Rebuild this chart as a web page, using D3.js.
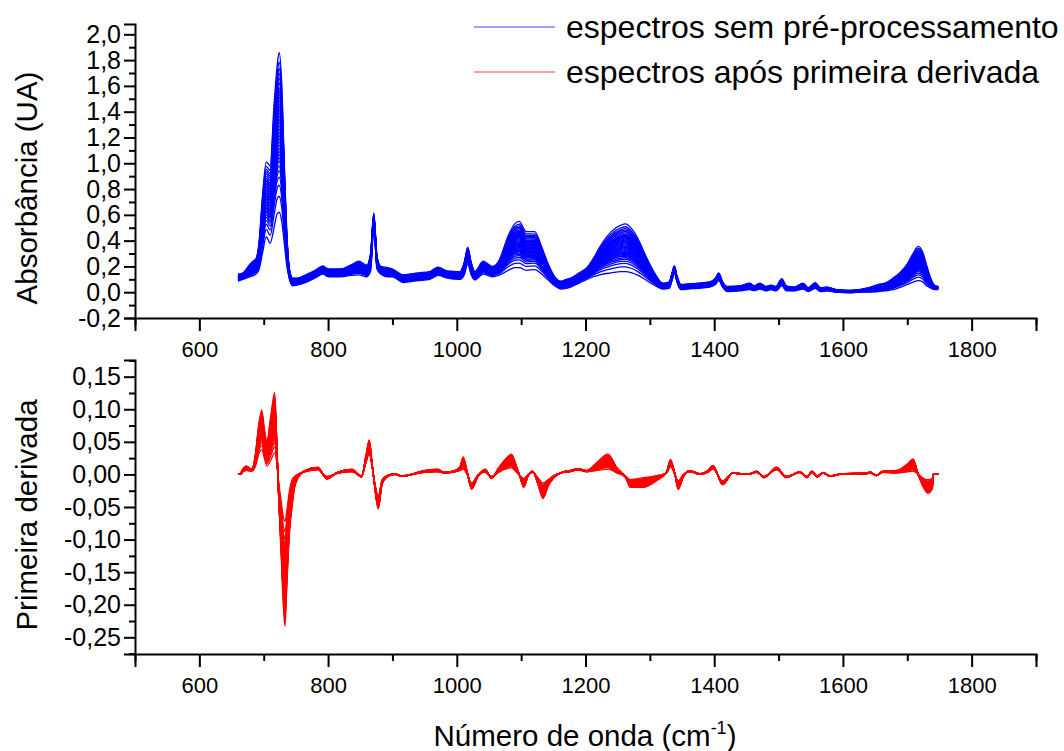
<!DOCTYPE html>
<html>
<head>
<meta charset="utf-8">
<script src="https://cdn.jsdelivr.net/npm/d3@7"></script>
<style>
  html, body { margin: 0; padding: 0; background: #fff; }
  svg { display: block; font-family: "Liberation Sans", Arial, sans-serif; }
</style>
</head>
<body>
<svg id="chart" width="1064" height="751"></svg>
<script>
// Wavenumber grid (cm-1) for the raw absorbance spectra, with the
// weakest and strongest spectrum of the set on that grid.
const absWavenumbers = [660, 668, 676, 682, 688, 693, 698, 704, 710, 716, 721, 724, 728, 732, 736, 740, 745, 752, 765, 780,
  792, 800, 820, 835, 848, 860, 866, 871, 876, 882, 893, 900, 917, 940, 958, 971, 985, 1005, 1012, 1017,
  1022, 1028, 1041, 1055, 1065, 1080, 1090, 1097, 1108, 1121, 1132, 1142, 1152, 1162, 1170, 1177, 1190, 1202, 1212, 1222,
  1240, 1255, 1262, 1272, 1282, 1292, 1305, 1320, 1330, 1335, 1338, 1342, 1348, 1360, 1375, 1393, 1402, 1407, 1413, 1420,
  1440, 1455, 1462, 1471, 1480, 1488, 1496, 1505, 1512, 1525, 1538, 1546, 1557, 1565, 1575, 1590, 1610, 1625, 1640, 1655,
  1665, 1678, 1690, 1700, 1710, 1717, 1724, 1730, 1737, 1743, 1748];
const absLowest = [0.085, 0.10, 0.115, 0.125, 0.14, 0.18, 0.30, 0.43, 0.38, 0.50, 0.61, 0.62, 0.55, 0.38, 0.20, 0.10, 0.05, 0.055, 0.075, 0.11,
  0.14, 0.12, 0.12, 0.13, 0.135, 0.12, 0.16, 0.50, 0.18, 0.14, 0.12, 0.12, 0.075, 0.09, 0.10, 0.13, 0.11, 0.10, 0.14, 0.22,
  0.14, 0.095, 0.14, 0.12, 0.13, 0.17, 0.19, 0.19, 0.17, 0.175, 0.14, 0.095, 0.05, 0.025, 0.03, 0.04, 0.07, 0.10, 0.12, 0.135,
  0.15, 0.16, 0.16, 0.15, 0.13, 0.10, 0.06, 0.025, 0.03, 0.10, 0.15, 0.08, 0.02, 0.025, 0.03, 0.04, 0.06, 0.09, 0.04, 0.005,
  0.01, 0.02, 0.012, 0.025, 0.01, 0.02, 0.01, 0.05, 0.01, 0.01, 0.025, 0.005, 0.03, 0.005, 0.01, 0.0, -0.005, 0.0, 0.0, 0.005,
  0.01, 0.02, 0.04, 0.06, 0.08, 0.09, 0.08, 0.05, 0.03, 0.02, 0.02];
const absHighest = [0.14, 0.15, 0.20, 0.235, 0.26, 0.40, 0.74, 1.01, 0.98, 1.45, 1.76, 1.86, 1.62, 1.00, 0.45, 0.18, 0.11, 0.11, 0.135, 0.17,
  0.205, 0.18, 0.18, 0.21, 0.24, 0.21, 0.30, 0.615, 0.28, 0.20, 0.19, 0.18, 0.135, 0.15, 0.16, 0.195, 0.165, 0.16, 0.24, 0.35,
  0.24, 0.16, 0.24, 0.20, 0.24, 0.44, 0.53, 0.55, 0.47, 0.47, 0.35, 0.22, 0.12, 0.085, 0.10, 0.11, 0.15, 0.19, 0.26, 0.35,
  0.47, 0.52, 0.53, 0.49, 0.41, 0.30, 0.17, 0.07, 0.08, 0.16, 0.205, 0.13, 0.06, 0.065, 0.07, 0.08, 0.11, 0.15, 0.08, 0.045,
  0.05, 0.07, 0.05, 0.07, 0.045, 0.055, 0.045, 0.105, 0.05, 0.04, 0.07, 0.035, 0.075, 0.035, 0.04, 0.02, 0.015, 0.02, 0.035, 0.06,
  0.07, 0.11, 0.16, 0.22, 0.31, 0.355, 0.31, 0.21, 0.10, 0.05, 0.045];

// First-derivative spectra: grid and the weakest / strongest response.
const derivWavenumbers = [660, 664, 668, 673, 681, 687, 692, 697, 701, 705, 711, 717, 720, 723, 727, 731, 733, 736, 740, 744,
  748, 752, 764, 784, 798, 816, 837, 852, 859, 864, 868, 872, 878, 884, 893, 904, 914, 950, 971, 980,
  997, 1005, 1010, 1016, 1023, 1033, 1044, 1054, 1065, 1075, 1085, 1093, 1098, 1104, 1111, 1118, 1126, 1134, 1142, 1150,
  1165, 1176, 1188, 1202, 1217, 1235, 1249, 1262, 1270, 1290, 1310, 1326, 1332, 1339, 1344, 1352, 1362, 1378, 1390, 1398,
  1413, 1429, 1452, 1466, 1477, 1497, 1512, 1533, 1544, 1552, 1560, 1569, 1580, 1600, 1637, 1642, 1652, 1662, 1683, 1700,
  1709, 1717, 1725, 1732, 1739, 1740, 1748];
const derivWeakest = [0, 0, 0.004, 0.006, 0.005, 0.012, 0.03, 0.038, 0.025, 0.013, 0.022, 0.033, 0.02, -0.01, -0.04, -0.068, -0.072, -0.055, -0.025, -0.008,
  -0.003, 0.0, 0.004, 0.007, -0.003, 0.002, 0.004, -0.002, 0.018, 0.031, 0.015, -0.01, -0.033, -0.008, -0.001, 0.001, -0.002, 0.003, 0.004, 0.002,
  0.004, 0.006, 0.008, 0.0, -0.013, -0.001, 0.003, -0.003, 0.003, 0.008, 0.01, 0.003, -0.002, -0.006, 0.0, 0.003, -0.005, -0.013, -0.008, -0.002,
  0.003, 0.004, 0.007, 0.004, 0.006, 0.008, 0.002, -0.003, -0.008, -0.005, -0.002, 0.002, 0.012, 0.0, -0.01, 0.0, 0.004, 0.0, 0.003, 0.008,
  -0.01, 0.002, 0.0, 0.003, -0.003, 0.007, -0.003, 0.003, -0.003, 0.003, -0.002, 0.002, -0.002, 0.001, 0.001, 0.002, -0.001, 0.003, 0.002, 0.004,
  0.005, 0.0, -0.006, -0.008, -0.006, 0, 0];
const derivStrongest = [0, 0.002, 0.009, 0.013, 0.008, 0.03, 0.075, 0.099, 0.07, 0.051, 0.09, 0.126, 0.06, -0.03, -0.12, -0.21, -0.233, -0.17, -0.09, -0.05,
  -0.02, -0.008, 0.006, 0.011, -0.007, 0.004, 0.008, -0.004, 0.03, 0.053, 0.02, -0.015, -0.053, -0.015, -0.003, 0.0, -0.003, 0.006, 0.008, 0.003,
  0.006, 0.012, 0.027, 0.005, -0.023, -0.003, 0.008, -0.006, 0.01, 0.023, 0.031, 0.012, -0.003, -0.02, -0.002, 0.005, -0.015, -0.037, -0.018, -0.006,
  0.004, 0.006, 0.009, 0.006, 0.018, 0.031, 0.01, -0.004, -0.02, -0.02, -0.01, 0.004, 0.023, 0.0, -0.023, -0.004, 0.006, 0.001, 0.006, 0.014,
  -0.016, 0.002, 0.0, 0.005, -0.005, 0.011, -0.005, 0.004, -0.005, 0.005, -0.004, 0.003, -0.003, 0.001, 0.002, 0.004, -0.002, 0.005, 0.006, 0.016,
  0.024, 0.0, -0.02, -0.029, -0.022, 0, 0];

// Relative position of each sample between the weakest and strongest spectrum.
const sampleLevels = [0, 0.1, 0.17, 0.22, 0.26, 0.29, 0.32, 0.34, 0.36, 0.38, 0.40, 0.42, 0.44, 0.46, 0.48, 0.50, 0.52, 0.54,
  0.56, 0.58, 0.60, 0.62, 0.64, 0.66, 0.68, 0.70, 0.72, 0.74, 0.76, 0.78, 0.81, 0.84, 0.87, 0.90, 0.94, 1.0];

const xTickValues = [600, 800, 1000, 1200, 1400, 1600, 1800];
const xMinorValues = [500, 700, 900, 1100, 1300, 1500, 1700, 1900];
const absTickValues = [-0.2, 0.0, 0.2, 0.4, 0.6, 0.8, 1.0, 1.2, 1.4, 1.6, 1.8, 2.0];
const absMinorValues = [-0.1, 0.1, 0.3, 0.5, 0.7, 0.9, 1.1, 1.3, 1.5, 1.7, 1.9];
const derivTickValues = [-0.25, -0.20, -0.15, -0.10, -0.05, 0.00, 0.05, 0.10, 0.15];
const derivMinorValues = [-0.275, -0.225, -0.175, -0.125, -0.075, -0.025, 0.025, 0.075, 0.125, 0.175];

const legendLabels = ["espectros sem pré-processamento", "espectros após primeira derivada"];
const seriesColors = ["#0000ff", "#ff0000"];

const svg = d3.select("#chart");
const locale = d3.formatLocale({ decimal: ",", thousands: ".", grouping: [3], currency: ["", ""], minus: "-" });

const x = d3.scaleLinear().domain([500, 1900]).range([135, 1036]);
const yAbs = d3.scaleLinear().domain([-0.2, 2.08]).range([318, 24]);
const yDer = d3.scaleLinear().domain([-0.2756, 0.1756]).range([654, 360]);

function buildSpectra(grid, weak, strong) {
  return sampleLevels.map(t => grid.map((w, i) => [w, weak[i] + t * (strong[i] - weak[i])]));
}

function drawPanel(yScale, spectra, color, yTicks, yMinor, fmt, title, titleY) {
  const g = svg.append("g");
  const line = d3.line().x(d => x(d[0])).y(d => yScale(d[1])).curve(d3.curveMonotoneX);
  g.append("g").selectAll("path").data(spectra).join("path")
    .attr("d", line).attr("fill", "none").attr("stroke", color).attr("stroke-width", 1.3);

  const yr = yScale.range();
  // x axis: labelled majors every 200 cm-1, minors in between
  const xAxis = g.append("g").attr("transform", `translate(0,${yr[0]})`);
  xAxis.call(d3.axisBottom(x).tickValues(xTickValues).tickSize(13).tickPadding(10).tickFormat(d3.format("d")));
  xAxis.append("g").call(d3.axisBottom(x).tickValues(xMinorValues).tickSize(7).tickFormat(""));
  // y axis
  const yAxis = g.append("g").attr("transform", `translate(${x.range()[0]},0)`);
  yAxis.call(d3.axisLeft(yScale).tickValues(yTicks).tickSize(11).tickPadding(3).tickFormat(fmt));
  yAxis.append("g").call(d3.axisLeft(yScale).tickValues(yMinor).tickSize(6).tickFormat(""));

  g.selectAll(".domain").attr("stroke", "#000").attr("stroke-width", 2);
  g.selectAll(".tick line").attr("stroke", "#000").attr("stroke-width", 2);
  xAxis.selectAll(".tick text").attr("font-size", 22).attr("font-family", "'Liberation Sans Narrow', 'Liberation Sans', Arial, sans-serif").attr("fill", "#000");
  yAxis.selectAll(".tick text").attr("font-size", 25).attr("fill", "#000");
  g.selectAll(".domain").filter(function () { return this.parentNode.parentNode === xAxis.node() || this.parentNode.parentNode === yAxis.node(); }).remove();

  g.append("text")
    .attr("transform", `translate(37,${titleY}) rotate(-90)`)
    .attr("text-anchor", "middle").attr("font-size", 29.5).attr("fill", "#000")
    .text(title);
}

drawPanel(yAbs, buildSpectra(absWavenumbers, absLowest, absHighest), seriesColors[0],
  absTickValues, absMinorValues, locale.format(".1f"), "Absorbância (UA)", 188);
drawPanel(yDer, buildSpectra(derivWavenumbers, derivWeakest, derivStrongest), seriesColors[1],
  derivTickValues, derivMinorValues, locale.format(".2f"), "Primeira derivada", 515);

// x axis title
const xt = svg.append("text").attr("x", 585).attr("y", 746).attr("text-anchor", "middle")
  .attr("font-size", 29.5).attr("fill", "#000");
xt.append("tspan").text("Número de onda (cm");
xt.append("tspan").attr("font-size", 18).attr("dy", -12).text("-1");
xt.append("tspan").attr("dy", 12).text(")");

// legend
const legend = svg.append("g");
legendLabels.forEach((label, i) => {
  const ly = 27 + i * 45;
  legend.append("line").attr("x1", 474).attr("x2", 555).attr("y1", ly).attr("y2", ly)
    .attr("stroke", seriesColors[i]).attr("stroke-width", 1).attr("stroke-opacity", 0.75);
  legend.append("text").attr("x", 566).attr("y", ly + 11).attr("font-size", 32).attr("fill", "#000").text(label);
});
</script>
</body>
</html>
